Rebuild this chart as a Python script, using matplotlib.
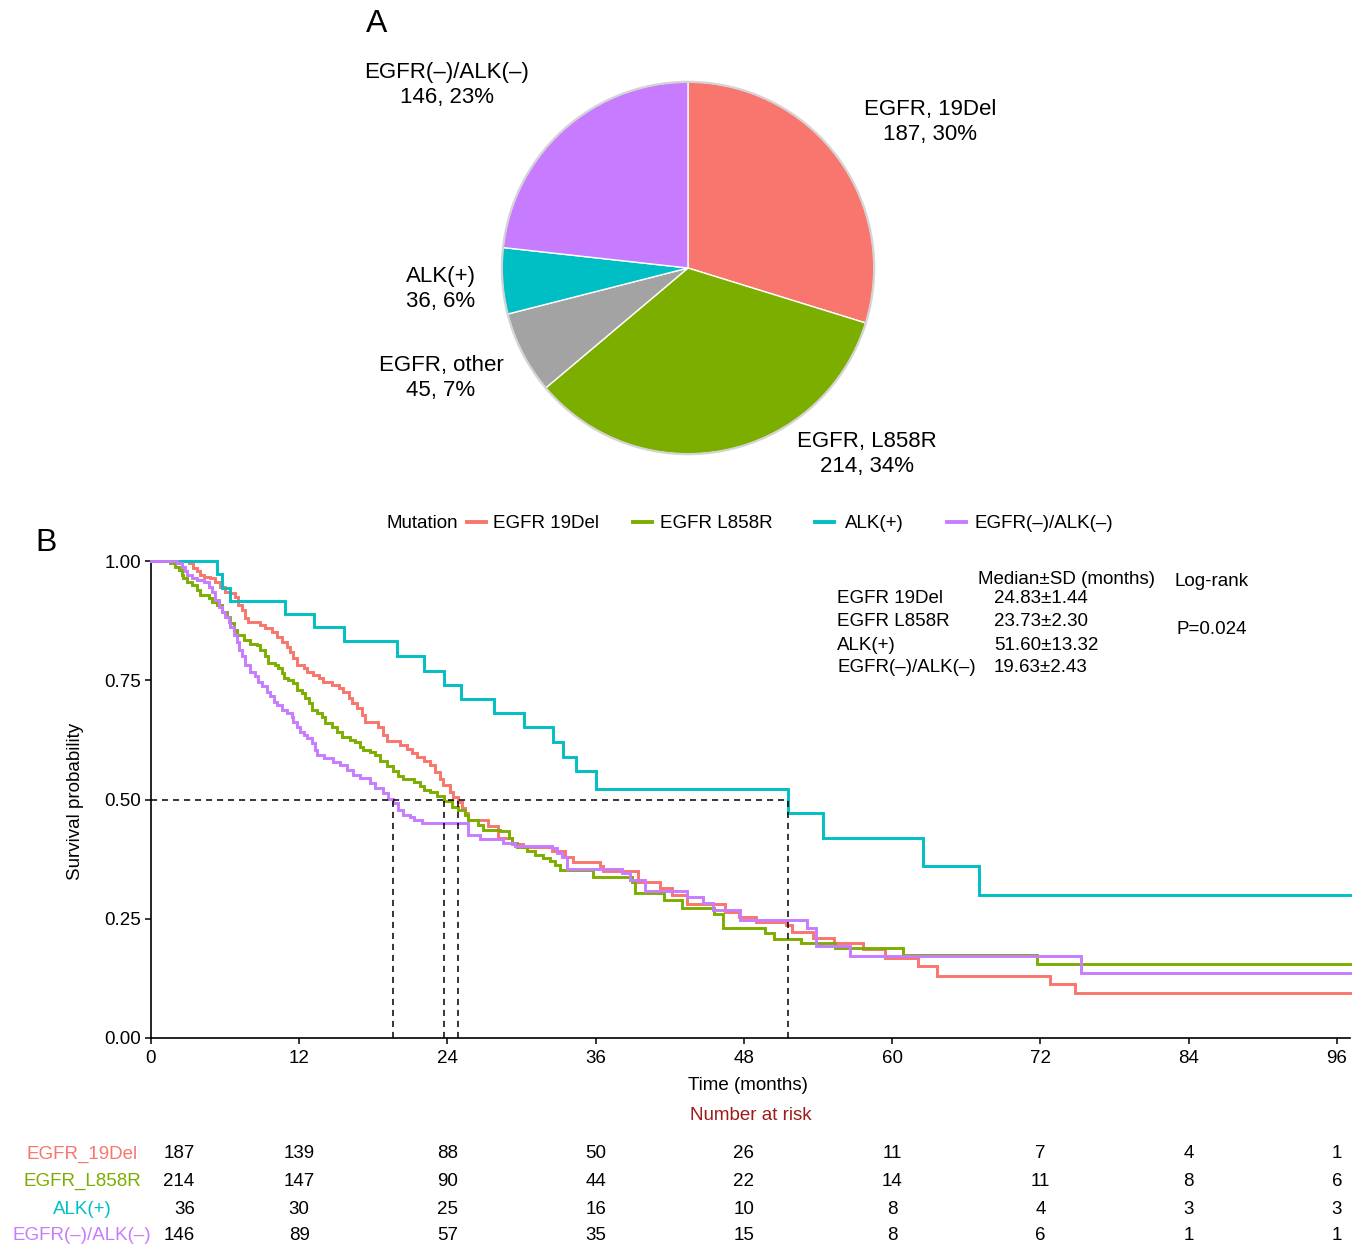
import numpy as np
import matplotlib
matplotlib.use("Agg")
import matplotlib.pyplot as plt
from matplotlib.lines import Line2D
from matplotlib.patches import Circle
import matplotlib.transforms as mtransforms

plt.rcParams['font.family'] = ['Liberation Sans', 'DejaVu Sans']

W, H = 1365, 1246
DPI = 100

# ---------------- Panel A data ----------------
pie_names = ["EGFR, 19Del", "EGFR, L858R", "EGFR, other", "ALK(+)", "EGFR(–)/ALK(–)"]
pie_counts = [187, 214, 45, 36, 146]
pie_colors = ["#F8766D", "#7CAE00", "#A3A3A3", "#00BFC4", "#C77CFF"]

# ---------------- Panel B data ----------------
groups = ["EGFR 19Del", "EGFR L858R", "ALK(+)", "EGFR(–)/ALK(–)"]
risk_names = ["EGFR_19Del", "EGFR_L858R", "ALK(+)", "EGFR(–)/ALK(–)"]
group_colors = ["#F8766D", "#7CAE00", "#00BFC4", "#C77CFF"]

t_19del = [0, 3.04, 3.44, 3.71, 3.98, 4.25, 4.79, 5.20, 5.60, 6.01, 6.41, 6.82, 7.08, 7.36,
           7.62, 7.89, 8.84, 9.24, 9.79, 10.19, 10.60, 11.00, 11.27, 11.53, 11.81, 12.35,
           12.62, 13.15, 13.56, 13.96, 14.64, 15.18, 15.58, 15.99, 16.26, 16.67, 17.07,
           17.34, 18.41, 18.82, 19.09, 20.17, 20.71, 21.12, 21.52, 22.06, 22.60, 23.00,
           23.41, 23.67, 24.22, 24.48, 24.83, 25.16, 25.43, 25.70, 27.32, 28.13, 29.21,
           30.15, 32.45, 33.52, 34.20, 36.36, 36.63, 39.46, 41.21, 42.16, 43.37, 46.5,
           47.6, 49.0, 51.4, 51.9, 53.6, 55.3, 57.6, 59.4, 62.1, 63.6, 72.8, 74.8]
s_19del = [1.0, 0.995, 0.985, 0.978, 0.971, 0.966, 0.964, 0.957, 0.946, 0.936, 0.932, 0.925,
           0.908, 0.897, 0.880, 0.873, 0.866, 0.859, 0.852, 0.841, 0.831, 0.820, 0.810,
           0.796, 0.782, 0.775, 0.768, 0.761, 0.754, 0.747, 0.740, 0.733, 0.726, 0.712,
           0.702, 0.692, 0.677, 0.663, 0.653, 0.635, 0.623, 0.614, 0.605, 0.597, 0.590,
           0.581, 0.572, 0.558, 0.544, 0.530, 0.516, 0.506, 0.495, 0.482, 0.471, 0.457,
           0.444, 0.419, 0.407, 0.401, 0.391, 0.379, 0.370, 0.361, 0.351, 0.326, 0.314,
           0.300, 0.281, 0.265, 0.254, 0.243, 0.236, 0.222, 0.209, 0.199, 0.186, 0.167,
           0.150, 0.131, 0.113, 0.094]

t_l858r = [0, 1.55, 1.96, 2.23, 2.50, 2.63, 2.90, 3.31, 3.71, 3.98, 4.66, 4.93, 5.33, 5.74,
           6.14, 6.41, 6.68, 6.95, 7.49, 8.03, 8.57, 8.84, 9.24, 9.51, 10.05, 10.32, 10.59,
           10.73, 11.13, 11.53, 11.81, 12.21, 12.48, 12.75, 13.02, 13.43, 13.83, 14.10,
           14.64, 15.05, 15.45, 16.12, 16.53, 16.93, 17.20, 17.74, 18.15, 18.55, 19.09,
           19.63, 20.03, 20.44, 21.25, 21.79, 22.06, 22.60, 23.14, 23.73, 24.35, 24.89,
           25.43, 25.70, 26.51, 26.91, 28.26, 28.94, 29.21, 29.62, 30.42, 31.10, 31.77,
           32.31, 32.72, 33.12, 35.82, 38.92, 39.19, 41.5, 43.0, 45.6, 46.3, 49.7, 50.4,
           52.6, 55.4, 60.9, 71.7]
s_l858r = [1.0, 0.995, 0.988, 0.981, 0.971, 0.964, 0.957, 0.950, 0.939, 0.929, 0.922, 0.915,
           0.908, 0.894, 0.883, 0.869, 0.855, 0.845, 0.834, 0.827, 0.824, 0.813, 0.800,
           0.786, 0.782, 0.775, 0.765, 0.754, 0.751, 0.744, 0.730, 0.723, 0.712, 0.702,
           0.688, 0.681, 0.674, 0.660, 0.653, 0.642, 0.632, 0.625, 0.621, 0.611, 0.604,
           0.600, 0.593, 0.581, 0.570, 0.560, 0.550, 0.542, 0.536, 0.528, 0.520, 0.515,
           0.508, 0.496, 0.485, 0.477, 0.467, 0.457, 0.447, 0.437, 0.433, 0.419, 0.408,
           0.401, 0.391, 0.384, 0.377, 0.372, 0.363, 0.352, 0.338, 0.328, 0.303, 0.289,
           0.272, 0.260, 0.230, 0.221, 0.208, 0.199, 0.189, 0.174, 0.155]

t_alk = [0, 5.33, 5.74, 6.41, 10.86, 13.23, 15.66, 19.95, 22.06, 23.68, 25.08, 27.78, 30.21,
         32.53, 33.34, 34.41, 36.03, 51.60, 54.4, 62.5, 67.0]
s_alk = [1.0, 0.972, 0.944, 0.917, 0.889, 0.861, 0.833, 0.800, 0.770, 0.740, 0.711, 0.681,
         0.652, 0.620, 0.590, 0.560, 0.523, 0.472, 0.419, 0.361, 0.300]

t_neg = [0, 2.10, 2.50, 2.77, 2.90, 3.31, 3.71, 4.25, 4.66, 4.93, 5.20, 5.47, 5.74, 6.01,
         6.28, 6.41, 6.68, 6.95, 7.09, 7.35, 7.62, 8.03, 8.43, 8.70, 8.97, 9.38, 9.65,
         9.92, 10.19, 10.59, 11.00, 11.40, 11.53, 11.81, 12.08, 12.35, 12.62, 13.02,
         13.29, 13.43, 13.97, 14.77, 15.31, 15.86, 16.39, 16.93, 17.74, 18.15, 18.82,
         19.22, 19.63, 20.03, 20.44, 20.98, 21.25, 21.92, 25.70, 26.64, 28.53, 29.48,
         32.45, 32.85, 33.26, 33.66, 38.11, 38.79, 40.0, 43.37, 44.72, 45.53, 47.69,
         53.1, 53.8, 56.6, 75.3]
s_neg = [1.0, 0.995, 0.988, 0.978, 0.971, 0.964, 0.960, 0.957, 0.946, 0.936, 0.918, 0.904,
         0.894, 0.883, 0.873, 0.862, 0.845, 0.831, 0.813, 0.800, 0.782, 0.768, 0.758,
         0.747, 0.737, 0.726, 0.716, 0.705, 0.698, 0.688, 0.681, 0.674, 0.663, 0.653,
         0.642, 0.635, 0.628, 0.618, 0.604, 0.593, 0.586, 0.579, 0.572, 0.562, 0.551,
         0.545, 0.534, 0.524, 0.513, 0.502, 0.492, 0.478, 0.467, 0.463, 0.458, 0.451,
         0.426, 0.417, 0.408, 0.403, 0.398, 0.387, 0.380, 0.354, 0.345, 0.331, 0.309,
         0.296, 0.282, 0.268, 0.247, 0.230, 0.193, 0.172, 0.137]

follow_end = 97.06
medians = [24.83, 23.73, 51.60, 19.63]
median_sd = ["24.83±1.44", "23.73±2.30", "51.60±13.32", "19.63±2.43"]
p_text = "P=0.024"

risk_times = [0, 12, 24, 36, 48, 60, 72, 84, 96]
risk_19del = [187, 139, 88, 50, 26, 11, 7, 4, 1]
risk_l858r = [214, 147, 90, 44, 22, 14, 11, 8, 6]
risk_alk = [36, 30, 25, 16, 10, 8, 4, 3, 3]
risk_neg = [146, 89, 57, 35, 15, 8, 6, 1, 1]

x_ticks = [0, 12, 24, 36, 48, 60, 72, 84, 96]
y_ticks = [0.0, 0.25, 0.5, 0.75, 1.0]

FS = 13.5
TY = 2  # small vertical nudge (px) for single-line text


def fx(x):
    return x / W


def fy(y):
    return 1 - y / H


def ft(y):
    return 1 - (y + TY) / H


fig = plt.figure(figsize=(W / DPI, H / DPI), dpi=DPI)
fig.patch.set_facecolor("white")

# ---------------- Panel A: pie ----------------
cx, cy, r = 688, 268, 188
axp = fig.add_axes([fx(cx - r), fy(cy + r), 2 * r / W, 2 * r / H])
axp.pie(pie_counts, colors=pie_colors, startangle=90, counterclock=False, radius=1.0,
        wedgeprops=dict(edgecolor="white", linewidth=1.0))
axp.add_patch(Circle((0, 0), 1.0, fill=False, edgecolor="#D4D4D4", linewidth=1.6, zorder=5))
axp.set_xlim(-1.01, 1.01)
axp.set_ylim(-1.01, 1.01)
axp.set_aspect("equal")
axp.axis("off")

total = sum(pie_counts)
pie_label_pos = [(930, 122), (867, 454), (441, 378), (441, 289), (447, 85)]
for name, n, (lx, ly) in zip(pie_names, pie_counts, pie_label_pos):
    fig.text(fx(lx), fy(ly), f"{name}\n{n}, {round(100 * n / total)}%", ha="center",
             va="center", multialignment="center", fontsize=16, linespacing=1.2)

fig.text(fx(377), ft(22), "A", ha="center", va="center", fontsize=23)
fig.text(fx(46), ft(541), "B", ha="center", va="center", fontsize=23)

# ---------------- Panel B: KM ----------------
ax = fig.add_axes([fx(151), fy(1038), (1350 - 151) / W, (1038 - 561) / H])
curves = [(t_19del, s_19del), (t_l858r, s_l858r), (t_alk, s_alk), (t_neg, s_neg)]
for (t, s), col, g in zip(curves, group_colors, groups):
    tt = list(t) + [follow_end]
    ss = list(s) + [s[-1]]
    ax.step(tt, ss, where="post", color=col, lw=2.1, clip_on=False, zorder=3,
            solid_joinstyle="miter")

ax.plot([0, max(medians)], [0.5, 0.5], color="black", lw=1.1, dashes=(4, 3.2), zorder=4)
for m in medians:
    ax.plot([m, m], [0, 0.5], color="black", lw=1.1, dashes=(4, 3.2), zorder=4)

ax.set_xlim(0, follow_end)
ax.set_ylim(0, 1)
ax.set_xticks(x_ticks)
ax.set_xticklabels([str(v) for v in x_ticks])
ax.set_yticks(y_ticks)
ax.set_yticklabels([f"{v:.2f}" for v in y_ticks])
for sp in ["top", "right"]:
    ax.spines[sp].set_visible(False)
for sp in ["left", "bottom"]:
    ax.spines[sp].set_linewidth(1.2)
    ax.spines[sp].set_color("black")
ax.tick_params(direction="out", length=4, width=1.1, labelsize=FS, pad=3, colors="black")
ax.tick_params(axis="x", pad=4.5)

fig.text(fx(76), fy(801), "Survival probability", rotation=90, ha="center", va="center",
         fontsize=FS)
fig.text(fx(748), ft(1084), "Time (months)", ha="center", va="center", fontsize=FS)

# legend (manual layout, ggplot style)
leg_y = 522
fig.text(fx(458), ft(leg_y), "Mutation", ha="right", va="center", fontsize=FS)
legend_key_x = [467, 633, 815, 947]
legend_text_x = [493, 660, 845, 975]
for g, col, kx, tx in zip(groups, group_colors, legend_key_x, legend_text_x):
    fig.add_artist(Line2D([fx(kx), fx(kx + 19)], [fy(leg_y), fy(leg_y)], color=col, lw=2.8,
                          transform=fig.transFigure))
    fig.text(fx(tx), ft(leg_y), g, ha="left", va="center", fontsize=FS)

# medians annotation
fig.text(fx(978), ft(577), "Median±SD (months)", ha="left", va="center", fontsize=FS)
fig.text(fx(1174), ft(580), "Log-rank", ha="left", va="center", fontsize=FS)
row_y = [597, 620, 643, 666]
for g, msd, yy in zip(groups, median_sd, row_y):
    fig.text(fx(837), ft(yy), g, ha="left", va="center", fontsize=FS)
    fig.text(fx(994), ft(yy), msd, ha="left", va="center", fontsize=FS)
fig.text(fx(1177), ft(627), p_text, ha="left", va="center", fontsize=FS)

# ---------------- Risk table ----------------
fig.text(fx(751), ft(1113), "Number at risk", ha="center", va="center", fontsize=FS,
         color="#9E1B1B")
risk_rows = [risk_19del, risk_l858r, risk_alk, risk_neg]
risk_y = [1152, 1179, 1207, 1234]
blend = mtransforms.blended_transform_factory(ax.transData, fig.transFigure)
first_off = mtransforms.offset_copy(blend, fig=fig, x=31.5, y=0, units="points")
for name, col, vals, yy in zip(risk_names, group_colors, risk_rows, risk_y):
    fig.text(fx(82), ft(yy), name, ha="center", va="center", fontsize=FS, color=col)
    for tm, v in zip(risk_times, vals):
        if tm == risk_times[0]:
            fig.text(tm, ft(yy), str(v), transform=first_off, ha="right", va="center",
                     fontsize=FS)
        else:
            fig.text(tm, ft(yy), str(v), transform=blend, ha="center", va="center",
                     fontsize=FS)

fig.savefig("out.png", dpi=DPI, facecolor="white")
